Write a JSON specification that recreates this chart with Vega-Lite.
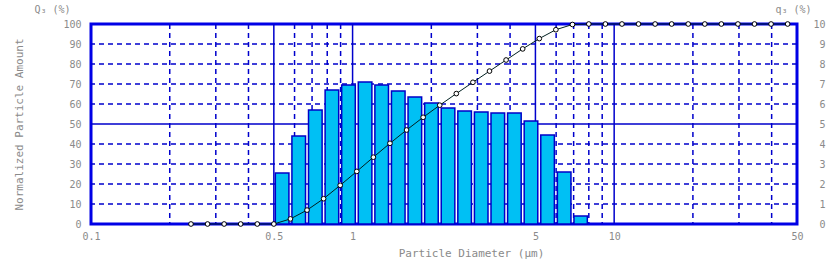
{
  "$schema": "https://vega.github.io/schema/vega-lite/v6.json",
  "width": 706,
  "height": 200,
  "autosize": {"type": "none"},
  "padding": {"left": 91, "top": 24, "right": 39, "bottom": 36},
  "background": "white",
  "config": {
    "view": {"stroke": "#0000E6", "strokeWidth": 3},
    "axis": {"labelFont": "DejaVu Sans Mono", "labelColor": "#8a8a8a", "labelFontSize": 10, "titleFont": "DejaVu Sans Mono", "titleColor": "#8a8a8a", "titleFontSize": 11, "titleFontWeight": "normal", "domain": false, "ticks": false, "grid": false}
  },
  "datasets": {
    "bars": [
      {"x": 0.5, "x2": 0.5786, "v": 25.5},
      {"x": 0.5786, "x2": 0.6696, "v": 44},
      {"x": 0.6696, "x2": 0.7749, "v": 57},
      {"x": 0.7749, "x2": 0.8967, "v": 67},
      {"x": 0.8967, "x2": 1.0377, "v": 69.5},
      {"x": 1.0377, "x2": 1.2009, "v": 71},
      {"x": 1.2009, "x2": 1.3897, "v": 69.5},
      {"x": 1.3897, "x2": 1.6082, "v": 66.5},
      {"x": 1.6082, "x2": 1.8611, "v": 63.5},
      {"x": 1.8611, "x2": 2.1537, "v": 60.5},
      {"x": 2.1537, "x2": 2.4923, "v": 58},
      {"x": 2.4923, "x2": 2.8842, "v": 56.5},
      {"x": 2.8842, "x2": 3.3377, "v": 56},
      {"x": 3.3377, "x2": 3.8625, "v": 55.5},
      {"x": 3.8625, "x2": 4.4699, "v": 55.5},
      {"x": 4.4699, "x2": 5.1727, "v": 51.5},
      {"x": 5.1727, "x2": 5.9861, "v": 44.5},
      {"x": 5.9861, "x2": 6.9273, "v": 26},
      {"x": 6.9273, "x2": 8.0, "v": 4}
    ],
    "cum": [
      {"x": 0.2411, "c": 0},
      {"x": 0.279, "c": 0},
      {"x": 0.3228, "c": 0},
      {"x": 0.3735, "c": 0},
      {"x": 0.4321, "c": 0},
      {"x": 0.5, "c": 0},
      {"x": 0.5786, "c": 2.55},
      {"x": 0.6696, "c": 6.95},
      {"x": 0.7749, "c": 12.65},
      {"x": 0.8967, "c": 19.35},
      {"x": 1.0377, "c": 26.3},
      {"x": 1.2009, "c": 33.4},
      {"x": 1.3897, "c": 40.35},
      {"x": 1.6082, "c": 47},
      {"x": 1.8611, "c": 53.35},
      {"x": 2.1537, "c": 59.4},
      {"x": 2.4923, "c": 65.2},
      {"x": 2.8842, "c": 70.85},
      {"x": 3.3377, "c": 76.45},
      {"x": 3.8625, "c": 82},
      {"x": 4.4699, "c": 87.55},
      {"x": 5.1727, "c": 92.7},
      {"x": 5.9861, "c": 97.15},
      {"x": 6.9273, "c": 99.75},
      {"x": 8.0, "c": 100},
      {"x": 9.256, "c": 100},
      {"x": 10.71, "c": 100},
      {"x": 12.39, "c": 100},
      {"x": 14.34, "c": 100},
      {"x": 16.59, "c": 100},
      {"x": 19.19, "c": 100},
      {"x": 22.21, "c": 100},
      {"x": 25.69, "c": 100},
      {"x": 29.73, "c": 100},
      {"x": 34.39, "c": 100},
      {"x": 39.8, "c": 100},
      {"x": 46.05, "c": 100}
    ],
    "vgrid": [
      {"x": 0.2, "t": "minor"}, {"x": 0.3, "t": "minor"}, {"x": 0.4, "t": "minor"},
      {"x": 0.5, "t": "major"},
      {"x": 0.6, "t": "minor"}, {"x": 0.7, "t": "minor"}, {"x": 0.8, "t": "minor"}, {"x": 0.9, "t": "minor"},
      {"x": 1, "t": "major"},
      {"x": 2, "t": "minor"}, {"x": 3, "t": "minor"}, {"x": 4, "t": "minor"},
      {"x": 5, "t": "major"},
      {"x": 6, "t": "minor"}, {"x": 7, "t": "minor"}, {"x": 8, "t": "minor"}, {"x": 9, "t": "minor"},
      {"x": 10, "t": "major"},
      {"x": 20, "t": "minor"}, {"x": 30, "t": "minor"}, {"x": 40, "t": "minor"}
    ],
    "hgrid": [
      {"y": 10, "t": "minor"}, {"y": 20, "t": "minor"}, {"y": 30, "t": "minor"}, {"y": 40, "t": "minor"},
      {"y": 50, "t": "major"},
      {"y": 60, "t": "minor"}, {"y": 70, "t": "minor"}, {"y": 80, "t": "minor"}, {"y": 90, "t": "minor"}
    ]
  },
  "resolve": {"axis": {"y": "independent"}},
  "encoding": {
    "x": {"field": "x", "type": "quantitative", "scale": {"type": "log", "domain": [0.1, 50], "nice": false},
      "axis": {"values": [0.1, 0.5, 1, 5, 10, 50], "format": "~g", "labelPadding": 7, "labelFlush": false, "title": "Particle Diameter      (μm)", "titleX": 380, "titlePadding": 6}}
  },
  "layer": [
    {
      "data": {"name": "vgrid"},
      "mark": {"type": "rule", "color": "#0000CC", "strokeWidth": 1.5},
      "encoding": {
        "strokeDash": {"field": "t", "type": "nominal", "scale": {"domain": ["minor", "major"], "range": [[5, 4], [1, 0]]}, "legend": null}
      }
    },
    {
      "data": {"name": "hgrid"},
      "mark": {"type": "rule", "color": "#0000CC", "strokeWidth": 1.5},
      "encoding": {
        "x": null,
        "y": {"field": "y", "type": "quantitative", "scale": {"domain": [0, 100], "nice": false},
          "axis": {"orient": "left", "labels": false, "values": [0, 100], "title": "Q₃ (%)", "titleFontSize": 10, "titleAngle": 0, "titleX": -57, "titleY": -12, "titleAlign": "left", "titleBaseline": "alphabetic"}},
        "strokeDash": {"field": "t", "type": "nominal", "scale": {"domain": ["minor", "major"], "range": [[5, 4], [1, 0]]}, "legend": null}
      }
    },
    {
      "data": {"name": "bars"},
      "mark": {"type": "bar", "fill": "#00C0F4", "stroke": "#0000C8", "strokeWidth": 1.5, "xOffset": 1.5, "x2Offset": -1.5},
      "encoding": {
        "x2": {"field": "x2"},
        "y": {"field": "v", "type": "quantitative", "scale": {"domain": [0, 100], "nice": false},
          "axis": {"orient": "left", "values": [0, 10, 20, 30, 40, 50, 60, 70, 80, 90, 100], "labelPadding": 10, "title": "Normalized Particle Amount", "titlePadding": 38}},
        "y2": {"datum": 0}
      }
    },
    {
      "data": {"name": "cum"},
      "mark": {"type": "line", "color": "#002020", "strokeWidth": 1},
      "encoding": {
        "y": {"field": "c", "type": "quantitative", "scale": {"domain": [0, 100], "nice": false},
          "axis": {"orient": "right", "values": [0, 10, 20, 30, 40, 50, 60, 70, 80, 90, 100], "labelExpr": "format(datum.value / 10, 'd')", "labelAlign": "right", "labelPadding": 28, "title": "q₃ (%)", "titleFontSize": 10, "titleAngle": 0, "titleX": -22, "titleY": -12, "titleAlign": "left", "titleBaseline": "alphabetic"}}
      }
    },
    {
      "data": {"name": "cum"},
      "mark": {"type": "point", "shape": "circle", "filled": true, "fill": "white", "stroke": "#000000", "strokeWidth": 1, "size": 22, "opacity": 1},
      "encoding": {
        "y": {"field": "c", "type": "quantitative", "axis": null}
      }
    }
  ]
}
